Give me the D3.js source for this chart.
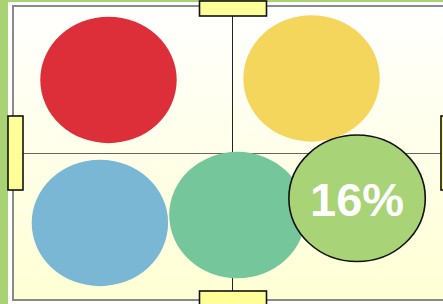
<!DOCTYPE html>
<html>
<head>
<meta charset="utf-8">
<script src="https://cdn.jsdelivr.net/npm/d3@7"></script>
<style>
  body { margin: 0; background: #fff; }
  svg { display: block; }
</style>
</head>
<body>
<div id="chart"></div>
<script>
// quadrant bubbles, data units: x and y in [-1, 1]
const names = ["red", "yellow", "blue", "teal", "lime"];
const bubbleX = [-0.566, 0.357, -0.605, 0.02, 0.564];
const bubbleY = [0.497, 0.507, -0.476, -0.422, -0.308];
const bubbleColors = ["#dc2f39", "#f5d65c", "#79b7d4", "#76c69c", "#a8d377"];
const bubbleLabels = ["", "", "", "", "16%"];
const radiusX = 0.31, radiusY = 0.43;

const W = 443, H = 304;
const svg = d3.select("#chart").append("svg").attr("width", W).attr("height", H);

const x = d3.scaleLinear().domain([-1, 1]).range([13, 453]);
const y = d3.scaleLinear().domain([1, -1]).range([6, 300]);

const defs = svg.append("defs");
const grad = defs.append("linearGradient").attr("id", "bg").attr("x1", 0).attr("y1", 0).attr("x2", 0).attr("y2", 1);
grad.append("stop").attr("offset", "0%").attr("stop-color", "#ffffff");
grad.append("stop").attr("offset", "100%").attr("stop-color", "#ffffd4");

// green strips at the edge
svg.append("rect").attr("x", 0).attr("y", 0).attr("width", 8).attr("height", H).attr("fill", "#a9d274");
svg.append("rect").attr("x", 0).attr("y", 0).attr("width", W).attr("height", 2).attr("fill", "#a9d274");

// frame
svg.append("rect")
    .attr("x", x(-1)).attr("y", y(1))
    .attr("width", x(1) - x(-1)).attr("height", y(-1) - y(1))
    .attr("fill", "url(#bg)")
    .attr("stroke", "#8a8a8a").attr("stroke-width", 2);

// quadrant axes (half pixel offsets keep them crisp)
svg.append("line")
    .attr("x1", x(0) - 0.5).attr("x2", x(0) - 0.5).attr("y1", y(1)).attr("y2", y(-1))
    .attr("stroke", "#222").attr("stroke-width", 1);
svg.append("line")
    .attr("x1", x(-1)).attr("x2", x(1)).attr("y1", y(0) + 0.5).attr("y2", y(0) + 0.5)
    .attr("stroke", "#666").attr("stroke-width", 1);

const data = names.map((n, i) => ({
    name: n, x: bubbleX[i], y: bubbleY[i], color: bubbleColors[i], label: bubbleLabels[i]
}));

const rx = x(radiusX) - x(0);
const ry = y(0) - y(radiusY);

svg.selectAll("ellipse.bubble")
    .data(data)
    .enter()
    .append("ellipse")
    .attr("class", "bubble")
    .attr("cx", d => x(d.x))
    .attr("cy", d => y(d.y))
    .attr("rx", rx)
    .attr("ry", ry)
    .attr("fill", d => d.color)
    .attr("stroke", d => d.label ? "#111" : "none")
    .attr("stroke-width", 1.6);

svg.selectAll("text.label")
    .data(data.filter(d => d.label))
    .enter()
    .append("text")
    .attr("class", "label")
    .attr("x", d => x(d.x))
    .attr("y", d => y(d.y) + 18)
    .attr("text-anchor", "middle")
    .attr("font-family", "Liberation Sans, Arial, sans-serif")
    .attr("font-weight", "bold")
    .attr("font-size", 47)
    .attr("fill", "#fff")
    .text(d => d.label);

// yellow handles at the ends of the axes
const hw = 67, hh = 15;
const handles = [
    {cx: x(0), cy: y(1) + 2.5, w: hw, h: hh},
    {cx: x(0), cy: y(-1) - 1.5, w: hw, h: hh},
    {cx: x(-1) + 2.5, cy: y(0), w: hh, h: 74},
    {cx: x(1) - 4.5, cy: y(0), w: hh, h: 74}
];
svg.selectAll("rect.handle")
    .data(handles)
    .enter()
    .append("rect")
    .attr("class", "handle")
    .attr("x", d => d.cx - d.w / 2)
    .attr("y", d => d.cy - d.h / 2)
    .attr("width", d => d.w)
    .attr("height", d => d.h)
    .attr("fill", "#ffff99")
    .attr("stroke", "#111")
    .attr("stroke-width", 1.6);
</script>
</body>
</html>
